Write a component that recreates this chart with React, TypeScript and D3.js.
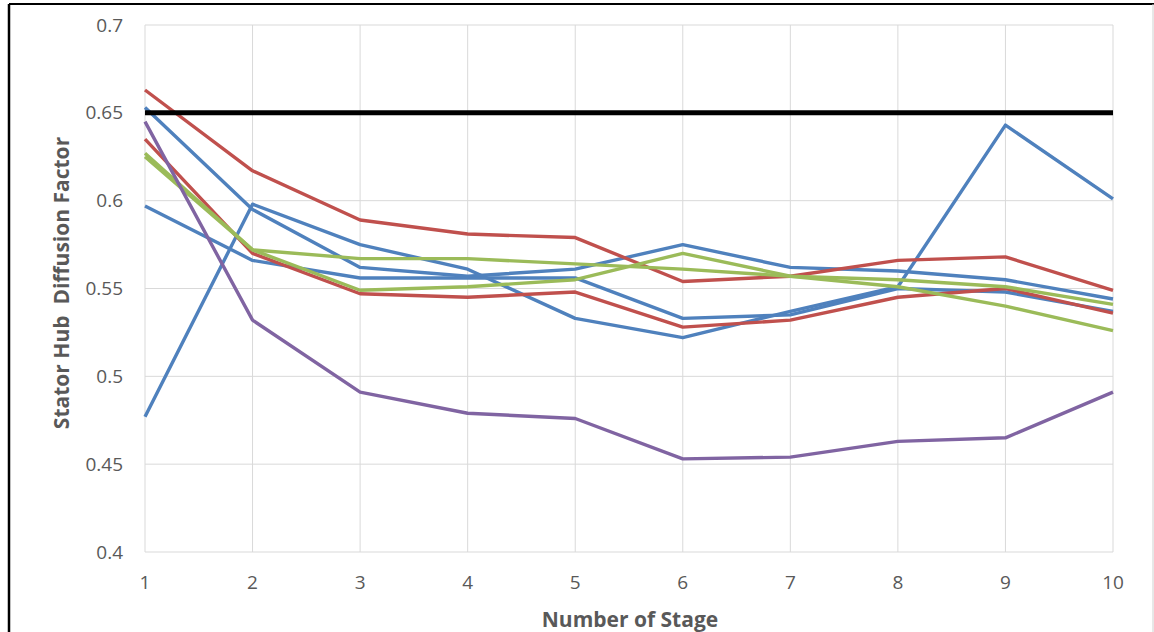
import React from "react";
import * as d3 from "d3";

// Stage numbers along the x axis
const stages = [1, 2, 3, 4, 5, 6, 7, 8, 9, 10];

// Stator hub diffusion factor per stage, one array per design case
const blueA = [0.477, 0.598, 0.575, 0.561, 0.533, 0.522, 0.537, 0.551, 0.643, 0.601];
const blueB = [0.653, 0.595, 0.562, 0.557, 0.561, 0.575, 0.562, 0.56, 0.555, 0.544];
const blueC = [0.597, 0.566, 0.556, 0.556, 0.556, 0.533, 0.535, 0.55, 0.548, 0.537];
const redA = [0.663, 0.617, 0.589, 0.581, 0.579, 0.554, 0.557, 0.566, 0.568, 0.549];
const redB = [0.635, 0.57, 0.547, 0.545, 0.548, 0.528, 0.532, 0.545, 0.55, 0.536];
const greenA = [0.627, 0.572, 0.567, 0.567, 0.564, 0.561, 0.557, 0.555, 0.551, 0.541];
const greenB = [0.625, 0.572, 0.549, 0.551, 0.555, 0.57, 0.557, 0.551, 0.54, 0.526];
const purple = [0.645, 0.532, 0.491, 0.479, 0.476, 0.453, 0.454, 0.463, 0.465, 0.491];

// Design limit
const limit = [0.65, 0.65, 0.65, 0.65, 0.65, 0.65, 0.65, 0.65, 0.65, 0.65];

const yTicks = [0.4, 0.45, 0.5, 0.55, 0.6, 0.65, 0.7];

const BLUE = "#4F81BD";
const RED = "#C0504D";
const GREEN = "#9BBB59";
const PURPLE = "#8064A2";

const series: { values: number[]; color: string; width: number }[] = [
  { values: blueA, color: BLUE, width: 3.4 },
  { values: blueB, color: BLUE, width: 3.4 },
  { values: blueC, color: BLUE, width: 3.4 },
  { values: redA, color: RED, width: 3.4 },
  { values: redB, color: RED, width: 3.4 },
  { values: greenA, color: GREEN, width: 3.4 },
  { values: greenB, color: GREEN, width: 3.4 },
  { values: purple, color: PURPLE, width: 3.4 },
  { values: limit, color: "#000000", width: 5 },
];

const W = 1154;
const H = 632;
const left = 145;
const right = 1113;
const top = 25;
const bottom = 552;

export default function App() {
  const x = d3.scaleLinear().domain([1, 10]).range([left, right]);
  const y = d3.scaleLinear().domain([0.4, 0.7]).range([bottom, top]);
  const line = d3
    .line<number>()
    .x((_, i) => x(stages[i]))
    .y((d) => y(d));

  const font = "'Open Sans', 'Noto Sans', sans-serif";

  return (
    <svg
      width={W}
      height={H}
      style={{ position: "absolute", left: 0, top: 0, background: "#fff" }}
      fontFamily={font}
    >
      <rect x={0} y={0} width={W} height={H} fill="#fff" />
      {/* frame */}
      <line x1={9} y1={4} x2={W} y2={4} stroke="#000" strokeWidth={2} />
      <line x1={9} y1={4} x2={9} y2={H} stroke="#000" strokeWidth={2.5} />
      <line x1={W - 1} y1={4} x2={W - 1} y2={H} stroke="#d0d0d0" strokeWidth={1} />

      {/* grid */}
      {yTicks.map((t) => (
        <line
          key={"h" + t}
          x1={left}
          x2={right}
          y1={y(t)}
          y2={y(t)}
          stroke="#d9d9d9"
          strokeWidth={1}
        />
      ))}
      {stages.map((s) => (
        <line
          key={"v" + s}
          x1={x(s)}
          x2={x(s)}
          y1={top}
          y2={bottom}
          stroke="#d9d9d9"
          strokeWidth={1}
        />
      ))}

      {/* series */}
      {series.map((s, i) => (
        <path
          key={i}
          d={line(s.values) || ""}
          fill="none"
          stroke={s.color}
          strokeWidth={s.width}
          strokeLinejoin="round"
        />
      ))}

      {/* y tick labels */}
      {yTicks.map((t) => (
        <text
          key={"yl" + t}
          x={123}
          y={y(t)}
          dy="0.35em"
          textAnchor="end"
          fontSize={19}
          fill="#595959"
        >
          {d3.format("~g")(t)}
        </text>
      ))}

      {/* x tick labels */}
      {stages.map((s) => (
        <text
          key={"xl" + s}
          x={x(s)}
          y={582}
          dy="0.35em"
          textAnchor="middle"
          fontSize={19}
          fill="#595959"
        >
          {s}
        </text>
      ))}

      {/* axis titles */}
      <text
        x={630}
        y={620}
        dy="0.35em"
        textAnchor="middle"
        fontSize={21}
        fontWeight="bold"
        fill="#595959"
      >
        Number of Stage
      </text>
      <text
        transform={`translate(62, 283) rotate(-90)`}
        textAnchor="middle"
        dy="0.35em"
        fontSize={21}
        fontWeight="bold"
        fill="#595959"
        style={{ whiteSpace: "pre" }}
      >
        {"Stator Hub  Diffusion Factor"}
      </text>
    </svg>
  );
}
